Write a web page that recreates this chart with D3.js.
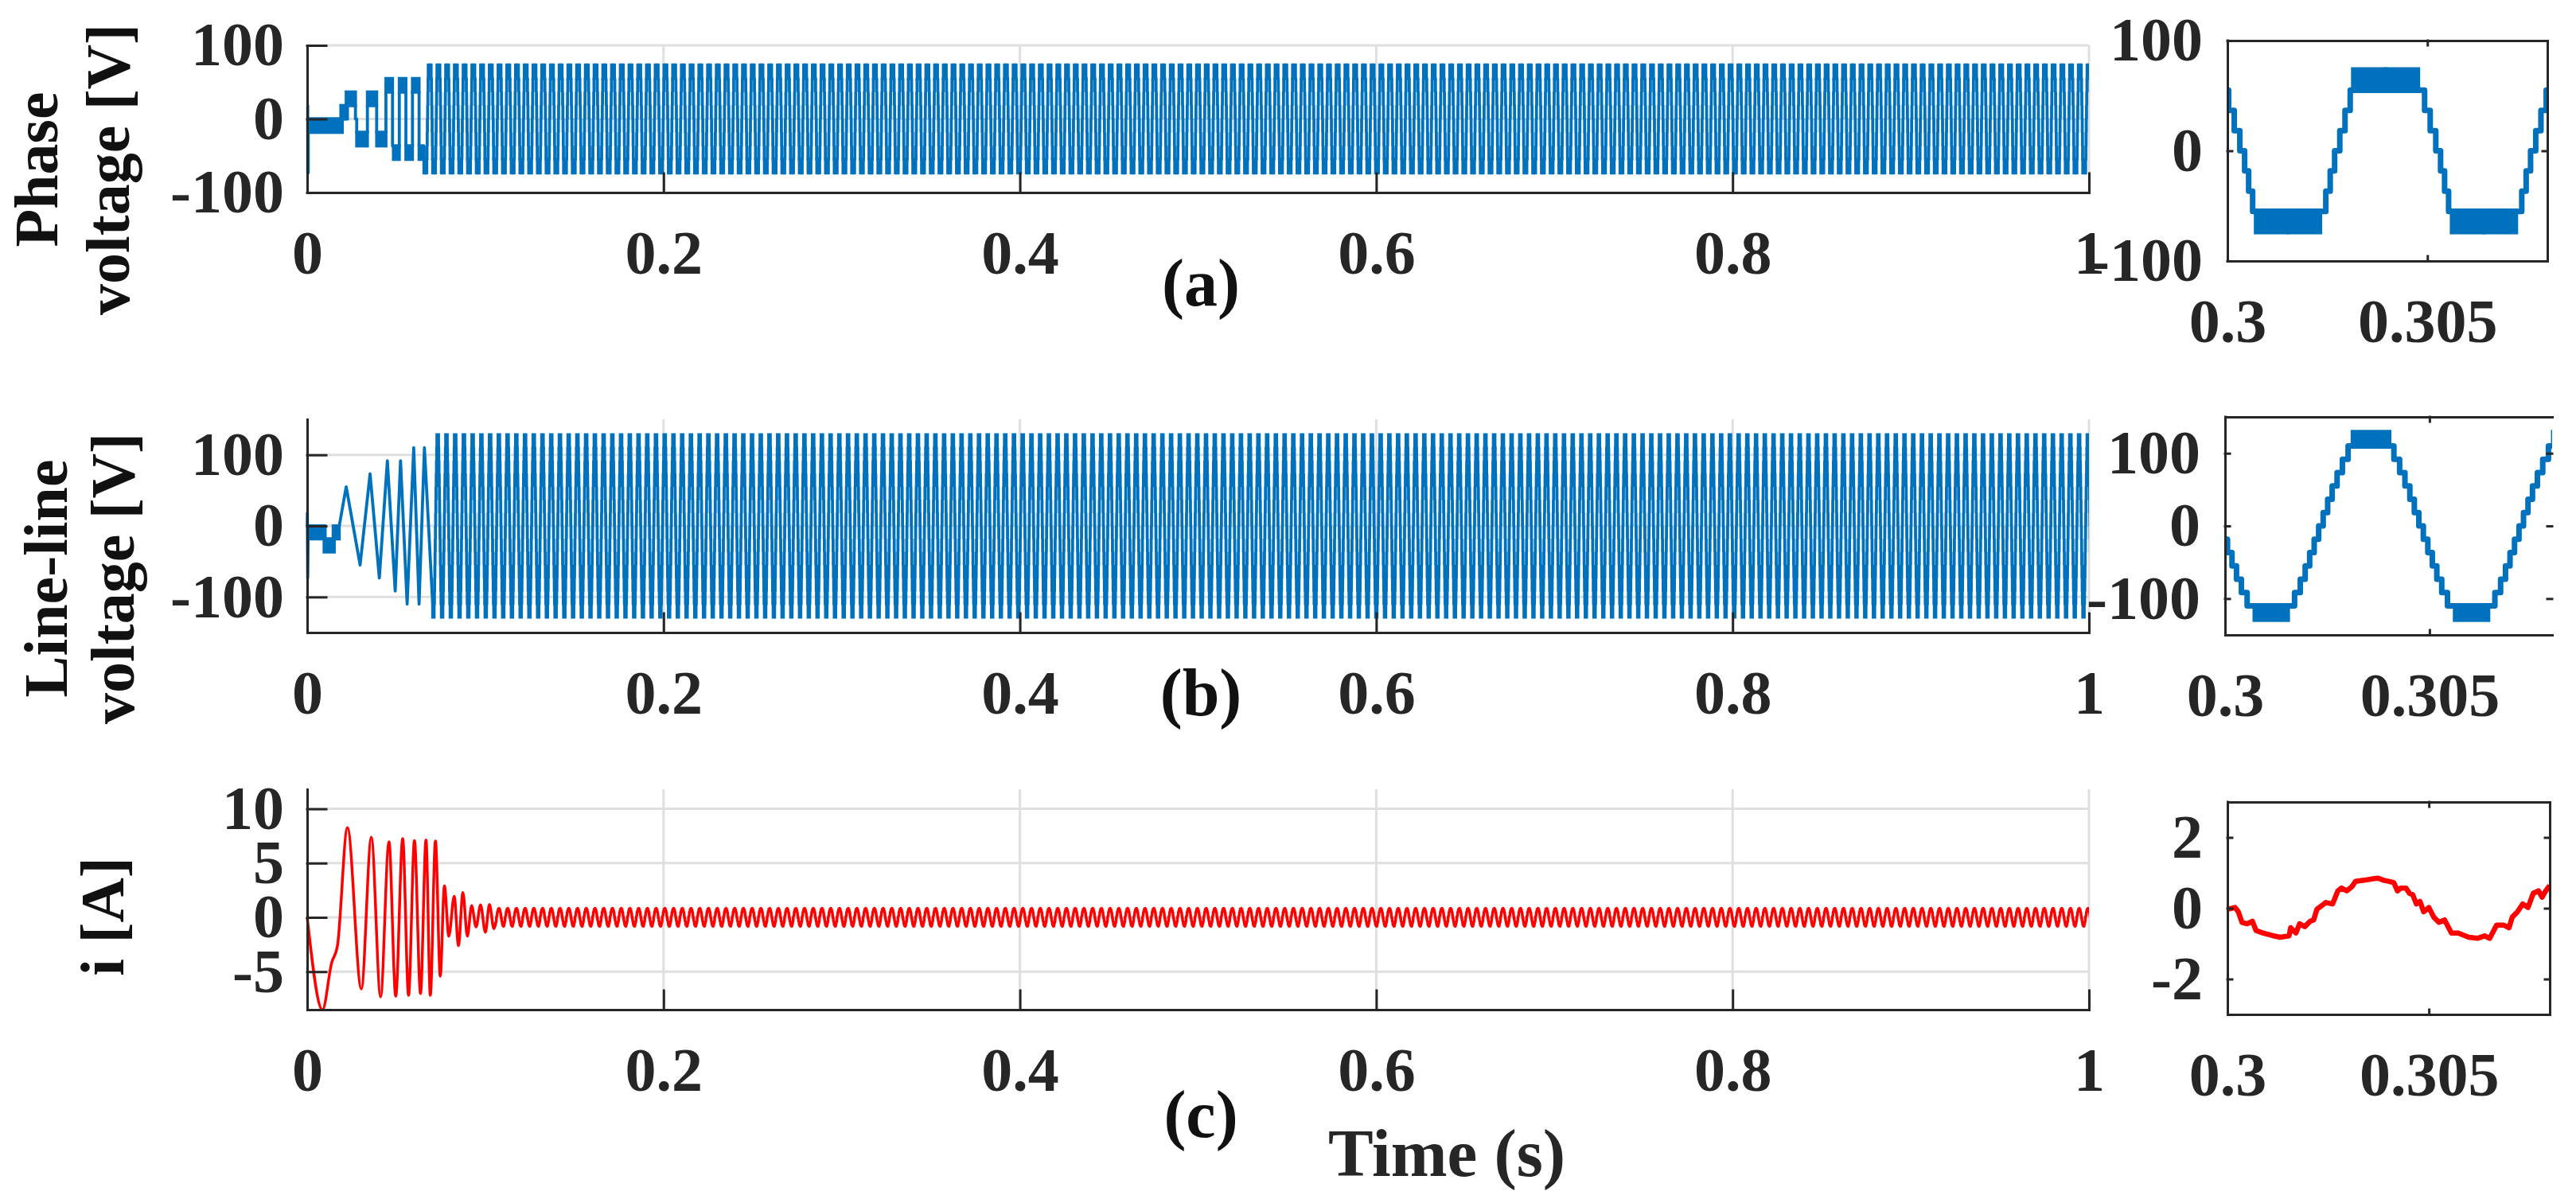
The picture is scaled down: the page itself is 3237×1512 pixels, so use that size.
<!DOCTYPE html>
<html>
<head>
<meta charset="utf-8">
<script src="https://cdn.jsdelivr.net/npm/d3@7"></script>
<style>
  body { margin: 0; background: #fff; }
</style>
</head>
<body>
<svg id="chart" width="3237" height="1512"></svg>
<script>
// inverter levels are multiples of 18.3 V, fundamental period ~4.9 ms

var cycleMs = 4.9;

// (a) phase voltage, one period, ms from start of the negative plateau
var phaseCycleSteps = [[0, -55], [1.73, -36.7], [1.84, -18.3], [1.95, 0], [2.08, 18.3], [2.21, 36.7], [2.34, 55],
    [4.20, 36.7], [4.34, 18.3], [4.48, 0], [4.60, -18.3], [4.70, -36.7], [4.80, -55]];
var phaseCycleBands = [[0, 0.74, -73.3, -55], [0.82, 1.57, -73.3, -55], [2.43, 3.19, 55, 73.3], [3.27, 4.02, 55, 73.3]];
var phaseAnchor = 0.30073;
var phaseSteadyFrom = 0.065;

// (a) start-up, seconds
var phaseStartSteps = [[0, 18.3], [0.0003, -73.3], [0.0006, 0],
    [0.0219, 18.3], [0.0271, 0], [0.0278, -18.3],
    [0.0338, 18.3], [0.0390, -18.3], [0.0442, 36.7],
    [0.0479, -36.7], [0.0517, 36.7], [0.0554, -36.7],
    [0.0591, 36.7], [0.0628, -36.7]];
var phaseStartBands = [
    [0.0015, 0.0197, -18.3, 0],
    [0.0189, 0.0226, 0, 18.3],
    [0.0219, 0.0271, 18.3, 36.7],
    [0.0278, 0.0338, -36.7, -18.3],
    [0.0338, 0.0390, 18.3, 36.7],
    [0.0390, 0.0442, -36.7, -18.3],
    [0.0442, 0.0479, 36.7, 55],
    [0.0484, 0.0517, -55, -36.7],
    [0.0517, 0.0554, 36.7, 55],
    [0.0554, 0.0591, -55, -36.7],
    [0.0591, 0.0628, 36.7, 55],
    [0.0628, 0.0650, -55, -36.7]];

// (b) line-line voltage, one period
var llCycleSteps = [[0, -110], [0.96, -91.7], [1.10, -73.3], [1.22, -55], [1.33, -36.7], [1.44, -18.3], [1.55, 0],
    [1.66, 18.3], [1.77, 36.7], [1.88, 55], [2.00, 73.3], [2.13, 91.7], [2.27, 110],
    [3.39, 91.7], [3.53, 73.3], [3.66, 55], [3.78, 36.7], [3.89, 18.3], [4.00, 0], [4.11, -18.3],
    [4.22, -36.7], [4.33, -55], [4.44, -73.3], [4.56, -91.7], [4.70, -110]];
var llCycleBands = [[0, 0.78, -128.3, -110], [2.40, 3.26, 110, 128.3]];
var llAnchor = 0.30074;
var llSteadyFrom = 0.070;

// (b) start-up
var llStartBands = [[0.0006, 0.0100, -18.3, 0], [0.0095, 0.0152, -36.7, -18.3], [0.0146, 0.0180, -18.3, 0]];
var llStartPts = [[0, 0], [0.0001, 18.3], [0.0003, -73.3], [0.0006, 0], [0.0100, 0], [0.0100, -18.3],
    [0.0150, -18.3], [0.0150, 0], [0.0180, 0], [0.0219, 55], [0.0297, -55], [0.0353, 73.3],
    [0.0405, -73.3], [0.0450, 91.7], [0.0494, -91.7], [0.0524, 91.7], [0.0561, -110],
    [0.0598, 110], [0.0628, -110], [0.0658, 110]];

// (c) current, inset samples (ms after 0.3 s, A)
var iInsetMs = [0.00, 0.19, 0.27, 0.36, 0.49, 0.62, 0.71, 0.88, 1.14, 1.31, 1.53, 1.57, 1.70, 1.79, 1.92,
    2.05, 2.14, 2.22, 2.35, 2.44, 2.61, 2.74, 2.83, 2.96, 3.09, 3.18, 3.39, 3.61, 3.74, 3.87,
    4.00, 4.13, 4.22, 4.30, 4.43, 4.52, 4.60, 4.69, 4.78, 4.87, 5.00, 5.12, 5.25, 5.39, 5.56,
    5.73, 5.99, 6.21, 6.38, 6.51, 6.68, 6.86, 6.99, 7.07, 7.20, 7.33, 7.46, 7.59, 7.72, 7.81,
    7.90, 8.00];
var iInsetA = [-0.03, 0.02, -0.10, -0.40, -0.44, -0.37, -0.63, -0.70, -0.78, -0.82, -0.78, -0.55, -0.70, -0.44, -0.52,
    -0.37, -0.33, -0.03, 0.08, 0.16, 0.12, 0.49, 0.57, 0.49, 0.61, 0.76, 0.79, 0.83, 0.85, 0.79,
    0.76, 0.72, 0.49, 0.57, 0.57, 0.42, 0.38, 0.12, 0.19, -0.10, 0.02, -0.25, -0.40, -0.33, -0.70,
    -0.70, -0.82, -0.85, -0.78, -0.85, -0.48, -0.48, -0.55, -0.25, -0.10, 0.12, 0.02, 0.42, 0.49, 0.31,
    0.49, 0.64];
var iCycleFromMs = 1.31, iCycleToMs = 6.21;
var iAnchor = 0.30131;
var iSteadyFrom = 0.105;

// (c) start-up turning points
var iStartT = [0, 0.0086, 0.0137, 0.0170, 0.0226, 0.0304, 0.0360, 0.0412, 0.0459, 0.0497, 0.0536, 0.0569,
    0.0602, 0.0636, 0.0667, 0.0691, 0.0720, 0.0747, 0.0770, 0.0795, 0.0825, 0.0849, 0.0874, 0.0899,
    0.0923, 0.0948, 0.0973, 0.1000, 0.1023, 0.1048];
var iStartA = [0, -8.5, -4.2, -2.6, 8.26, -6.59, 7.38, -7.33, 6.96, -7.26, 7.25, -7.18,
    7.08, -7.01, 7.13, -7.18, 7.03, -5.42, 2.92, -1.74, 1.94, -2.60, 2.30, -1.74,
    1.08, -0.88, 1.15, -1.37, 1.20, -1.05];

var timeTicks = [0, 0.2, 0.4, 0.6, 0.8, 1];
var insetTicks = [0.3, 0.305];

var BLUE = "#0072bd", RED = "#ff0000", INK = "#262626", GRID = "#dfdfdf";
var FONT = "Liberation Serif, Times New Roman, serif";
var MAIN_W = 3.8, INSET_W = 7;

var svg = d3.select("#chart");
var defs = svg.append("defs");

var mainX = d3.scaleLinear().domain([0, 1]).range([386, 2625]);

var panels = [
    {key: "a", top: 57, bottom: 242, yDomain: [-100, 100], yTicks: [-100, 0, 100],
        ylabel: [["Phase", 72], ["voltage [V]", 162]], ylabelY: 213, tag: "(a)", tagY: 384,
        inset: {left: 2799, right: 3201, top: 51, bottom: 328, yDomain: [-100, 100], yTicks: [-100, 0, 100], rightLine: true}},
    {key: "b", top: 527, bottom: 795, yDomain: [-150, 150], yTicks: [-100, 0, 100],
        ylabel: [["Line-line", 84], ["voltage [V]", 168]], ylabelY: 727, tag: "(b)", tagY: 899,
        inset: {left: 2796, right: 3207, top: 524, bottom: 798, yDomain: [-150, 150], yTicks: [-100, 0, 100], rightLine: false}},
    {key: "c", top: 992, bottom: 1269, yDomain: [-8.5, 11.8], yTicks: [-5, 0, 5, 10],
        ylabel: [["i [A]", 155]], ylabelY: 1152, tag: "(c)", tagY: 1429,
        inset: {left: 2799, right: 3204, top: 1008, bottom: 1275, yDomain: [-3, 3], yTicks: [-2, 0, 2], rightLine: true}}
];

function fmt(d) {
    return String(d);
}

function styleAxis(g) {
    g.selectAll("path, line").attr("stroke", INK).attr("stroke-width", 3).attr("stroke-linecap", "square");
    g.selectAll("text")
        .attr("font-family", FONT)
        .attr("font-weight", "bold")
        .attr("font-size", 78)
        .attr("fill", INK);
}

function repeatCycle(steps, bands, anchor, from, to) {
    var p = cycleMs / 1000;
    var c = anchor - Math.floor((anchor - from) / p) * p;
    var out = {steps: [], bands: []};
    for (; c < to; c += p) {
        steps.forEach(function (s) {
            out.steps.push([c + s[0] / 1000, s[1]]);
        });
        bands.forEach(function (b) {
            out.bands.push([c + b[0] / 1000, c + b[1] / 1000, b[2], b[3]]);
        });
    }
    return out;
}

function drawBands(g, bands, x, y, color, w) {
    g.selectAll(null)
        .data(bands)
        .enter().append("rect")
        .attr("x", function (d) { return x(d[0]); })
        .attr("width", function (d) { return Math.max(0, x(d[1]) - x(d[0])); })
        .attr("y", function (d) { return y(d[3]); })
        .attr("height", function (d) { return y(d[2]) - y(d[3]); })
        .attr("fill", color)
        .attr("stroke", color)
        .attr("stroke-width", w);
}

function drawLine(g, pts, x, y, curve, color, w) {
    var line = d3.line()
        .x(function (d) { return x(d[0]); })
        .y(function (d) { return y(d[1]); })
        .curve(curve);
    g.append("path")
        .datum(pts)
        .attr("d", line)
        .attr("fill", "none")
        .attr("stroke", color)
        .attr("stroke-width", w)
        .attr("stroke-linejoin", "round");
}

panels.forEach(function (p) {
    var x0 = mainX.range()[0], x1 = mainX.range()[1];
    var y = d3.scaleLinear().domain(p.yDomain).range([p.bottom, p.top]);
    var g = svg.append("g").attr("class", "panel-" + p.key);

    // grid
    g.selectAll(null).data(p.yTicks).enter().append("line")
        .attr("x1", x0).attr("x2", x1)
        .attr("y1", function (d) { return y(d); }).attr("y2", function (d) { return y(d); })
        .attr("stroke", GRID).attr("stroke-width", 3);
    g.selectAll(null).data(timeTicks.slice(1)).enter().append("line")
        .attr("x1", function (d) { return mainX(d); }).attr("x2", function (d) { return mainX(d); })
        .attr("y1", p.top).attr("y2", p.bottom)
        .attr("stroke", GRID).attr("stroke-width", 3);

    defs.append("clipPath").attr("id", "clip-" + p.key)
        .append("rect").attr("x", x0 - 2).attr("y", p.top - 30)
        .attr("width", x1 - x0 + 2).attr("height", p.bottom - p.top + 60);
    var data = g.append("g").attr("clip-path", "url(#clip-" + p.key + ")");

    // inset scales
    var ins = p.inset;
    var ix = d3.scaleLinear().domain([0.3, 0.308]).range([ins.left, ins.right]);
    var iy = d3.scaleLinear().domain(ins.yDomain).range([ins.bottom, ins.top]);
    defs.append("clipPath").attr("id", "iclip-" + p.key)
        .append("rect").attr("x", ins.left).attr("y", ins.top)
        .attr("width", ins.right - ins.left).attr("height", ins.bottom - ins.top);
    var ig = svg.append("g").attr("class", "inset-" + p.key);
    var idata = ig.append("g").attr("clip-path", "url(#iclip-" + p.key + ")");

    if (p.key === "a") {
        var st = repeatCycle(phaseCycleSteps, phaseCycleBands, phaseAnchor, phaseSteadyFrom, 1.0);
        drawBands(data, phaseStartBands.concat(st.bands), mainX, y, BLUE, MAIN_W);
        drawLine(data, phaseStartSteps.concat(st.steps), mainX, y, d3.curveStepAfter, BLUE, MAIN_W);
        var zi = repeatCycle(phaseCycleSteps, phaseCycleBands, phaseAnchor, 0.3 - cycleMs / 1000, 0.3085);
        drawBands(idata, zi.bands, ix, iy, BLUE, INSET_W);
        drawLine(idata, zi.steps, ix, iy, d3.curveStepAfter, BLUE, INSET_W);
    } else if (p.key === "b") {
        var sb = repeatCycle(llCycleSteps, llCycleBands, llAnchor, llSteadyFrom, 1.0);
        drawBands(data, llStartBands.concat(sb.bands), mainX, y, BLUE, MAIN_W);
        drawLine(data, llStartPts.concat([sb.steps[0]]), mainX, y, d3.curveLinear, BLUE, MAIN_W);
        drawLine(data, sb.steps, mainX, y, d3.curveStepAfter, BLUE, MAIN_W);
        var zb = repeatCycle(llCycleSteps, llCycleBands, llAnchor, 0.3 - cycleMs / 1000, 0.3085);
        drawBands(idata, zb.bands, ix, iy, BLUE, INSET_W);
        drawLine(idata, zb.steps, ix, iy, d3.curveStepAfter, BLUE, INSET_W);
    } else {
        var cyc = [];
        iInsetMs.forEach(function (t, i) {
            if (t >= iCycleFromMs && t < iCycleToMs) cyc.push([t - iCycleFromMs, iInsetA[i]]);
        });
        var per = cycleMs / 1000;
        var pts = iStartT.map(function (t, i) { return [t, iStartA[i]]; });
        var c = iAnchor - Math.floor((iAnchor - iSteadyFrom) / per) * per;
        for (; c < 1.0 + per; c += per) {
            cyc.forEach(function (d) { pts.push([c + d[0] / 1000, d[1]]); });
        }
        drawLine(data, pts, mainX, y, d3.curveMonotoneX, RED, 3.5);
        var ipts = iInsetMs.map(function (t, i) { return [0.3 + t / 1000, iInsetA[i]]; });
        drawLine(idata, ipts, ix, iy, d3.curveLinear, RED, 6.5);
    }

    // main axes, inward ticks, box off
    var ya = g.append("g").attr("transform", "translate(" + x0 + ",0)")
        .call(d3.axisLeft(y).tickValues(p.yTicks).tickSize(-24).tickSizeOuter(0).tickPadding(29).tickFormat(fmt));
    styleAxis(ya);
    var xa = g.append("g").attr("transform", "translate(0," + p.bottom + ")")
        .call(d3.axisBottom(mainX).tickValues(timeTicks).tickSize(-24).tickSizeOuter(0).tickPadding(47).tickFormat(fmt));
    styleAxis(xa);

    // inset axes, box on
    var il = ig.append("g").attr("transform", "translate(" + ins.left + ",0)")
        .call(d3.axisLeft(iy).tickValues(ins.yTicks).tickSize(-6).tickSizeOuter(0).tickPadding(31).tickFormat(fmt));
    styleAxis(il);
    var ib = ig.append("g").attr("transform", "translate(0," + ins.bottom + ")")
        .call(d3.axisBottom(ix).tickValues(insetTicks).tickSize(-6).tickSizeOuter(0).tickPadding(47).tickFormat(fmt));
    styleAxis(ib);
    var it = ig.append("g").attr("transform", "translate(0," + ins.top + ")")
        .call(d3.axisTop(ix).tickValues(insetTicks).tickSize(-6).tickSizeOuter(0).tickFormat(""));
    styleAxis(it);
    var ir = ig.append("g").attr("transform", "translate(" + ins.right + ",0)")
        .call(d3.axisRight(iy).tickValues(ins.yTicks).tickSize(-6).tickSizeOuter(0).tickFormat(""));
    styleAxis(ir);
    if (!ins.rightLine) ir.select(".domain").remove();

    // y label, two lines rotated
    p.ylabel.forEach(function (l) {
        svg.append("text")
            .attr("transform", "translate(" + l[1] + "," + p.ylabelY + ") rotate(-90)")
            .attr("text-anchor", "middle")
            .attr("font-family", FONT)
            .attr("font-weight", "bold")
            .attr("font-size", 78)
            .attr("fill", "#111")
            .text(l[0]);
    });

    svg.append("text")
        .attr("x", 1509)
        .attr("y", p.tagY)
        .attr("text-anchor", "middle")
        .attr("font-family", FONT)
        .attr("font-weight", "bold")
        .attr("font-size", 84)
        .attr("fill", "#111")
        .text(p.tag);
});

svg.append("text")
    .attr("x", 1818)
    .attr("y", 1478)
    .attr("text-anchor", "middle")
    .attr("font-family", FONT)
    .attr("font-weight", "bold")
    .attr("font-size", 85)
    .attr("fill", INK)
    .text("Time (s)");
</script>
</body>
</html>
